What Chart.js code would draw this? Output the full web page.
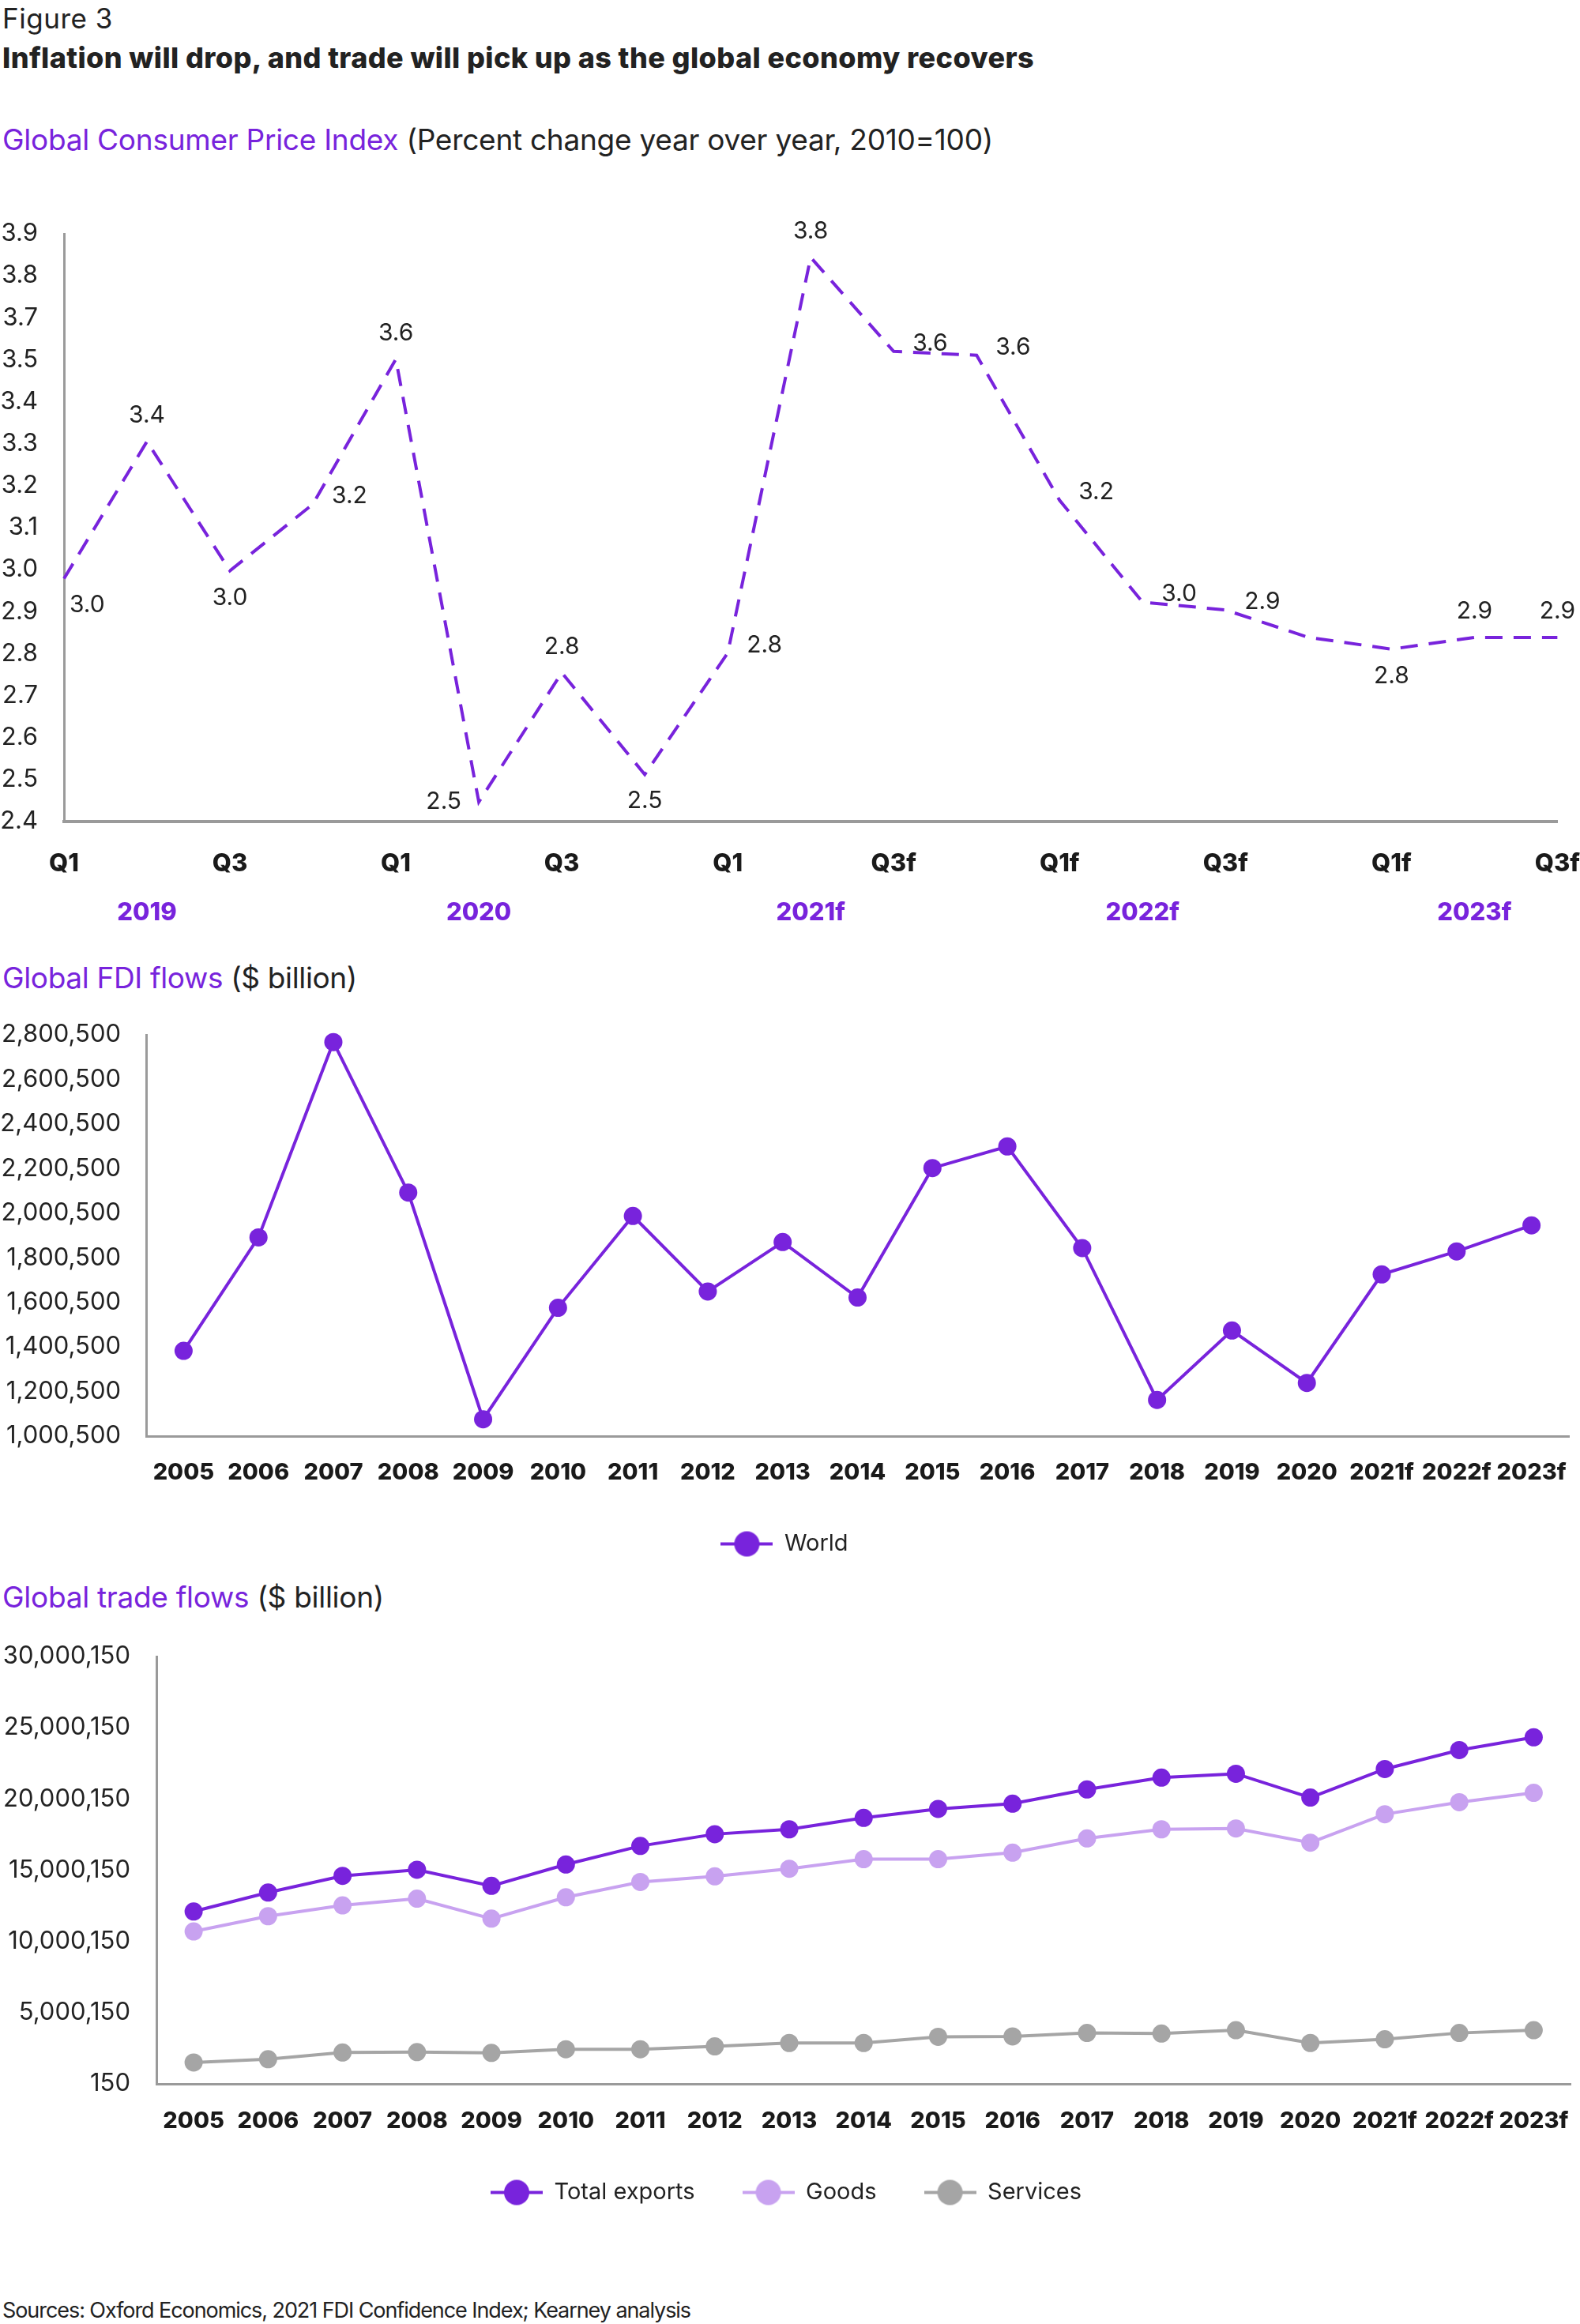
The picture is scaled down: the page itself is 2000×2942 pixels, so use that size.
<!DOCTYPE html>
<html>
<head>
<meta charset="utf-8">
<title>Figure 3</title>
<script src="https://cdn.jsdelivr.net/npm/chart.js@4.4.1/dist/chart.umd.min.js"></script>
<style>
  html, body { margin: 0; padding: 0; background: #fff; }
  body { width: 2000px; height: 2942px; position: relative; overflow: hidden; font-family: Inter, 'Noto Sans', sans-serif; color: #222; }
  .txt { position: absolute; left: 3px; white-space: nowrap; line-height: 1; }
  .hl { color: #7823dc; }
  .box { position: absolute; left: 0; width: 2000px; }
</style>
</head>
<body>
<div class="txt" style="top:6px;font-size:35px" data-w="140">Figure 3</div>
<div class="txt" style="top:55px;font-size:36px;font-weight:800" data-w="1306">Inflation will drop, and trade will pick up as the global economy recovers</div>
<div class="txt" style="top:158px;font-size:37px" data-w="1254"><span class="hl">Global Consumer Price Index</span> (Percent change year over year, 2010=100)</div>
<div class="box" style="top:250px;height:950px"><canvas id="cpi"></canvas></div>
<div class="txt" style="top:1219px;font-size:37px" data-w="449"><span class="hl">Global FDI flows</span> ($ billion)</div>
<div class="box" style="top:1270px;height:720px"><canvas id="fdi"></canvas></div>
<div class="txt" style="top:2003px;font-size:37px" data-w="483"><span class="hl">Global trade flows</span> ($ billion)</div>
<div class="box" style="top:2060px;height:750px"><canvas id="trade"></canvas></div>
<div class="txt" style="top:2911px;font-size:27px" data-w="871">Sources: Oxford Economics, 2021 FDI Confidence Index; Kearney analysis</div>

<script>
// --- data ---
const cpiQuarters = ['Q1', 'Q2', 'Q3', 'Q4', 'Q1', 'Q2', 'Q3', 'Q4', 'Q1', 'Q2f', 'Q3f', 'Q4f', 'Q1f', 'Q2f', 'Q3f', 'Q4f', 'Q1f', 'Q2f', 'Q3f'];
const cpiYears = ['2019', '2020', '2021f', '2022f', '2023f'];
const cpiValues = [3.02, 3.37, 3.04, 3.21, 3.58, 2.45, 2.78, 2.52, 2.83, 3.84, 3.60, 3.59, 3.22, 2.96, 2.94, 2.87, 2.84, 2.87, 2.87];
const cpiValueLabels = ['3.0', '3.4', '3.0', '3.2', '3.6', '2.5', '2.8', '2.5', '2.8', '3.8', '3.6', '3.6', '3.2', '3.0', '2.9', '', '2.8', '2.9', '2.9'];
const cpiTicks = ['2.4', '2.5', '2.6', '2.7', '2.8', '2.9', '3.0', '3.1', '3.2', '3.3', '3.4', '3.5', '3.7', '3.8', '3.9'];
const cpiMin = 2.4;
const cpiMax = 3.9;

const years = ['2005', '2006', '2007', '2008', '2009', '2010', '2011', '2012', '2013', '2014', '2015', '2016', '2017', '2018', '2019', '2020', '2021f', '2022f', '2023f'];
const fdiWorld = [1383000, 1892000, 2768000, 2093000, 1076000, 1576000, 1988000, 1649000, 1871000, 1622000, 2203000, 2300000, 1844000, 1163000, 1474000, 1239000, 1726000, 1829000, 1946000];
const fdiTicks = [1000500, 1200500, 1400500, 1600500, 1800500, 2000500, 2200500, 2400500, 2600500, 2800500];

const totalExports = [12100000, 13430000, 14600000, 15030000, 13900000, 15400000, 16700000, 17530000, 17870000, 18670000, 19300000, 19670000, 20670000, 21500000, 21770000, 20100000, 22100000, 23430000, 24330000];
const goods = [10700000, 11770000, 12530000, 13000000, 11600000, 13100000, 14170000, 14570000, 15100000, 15770000, 15770000, 16230000, 17230000, 17870000, 17930000, 16930000, 18930000, 19770000, 20430000];
const services = [1500000, 1730000, 2200000, 2230000, 2170000, 2430000, 2430000, 2630000, 2870000, 2870000, 3300000, 3330000, 3570000, 3530000, 3770000, 2870000, 3130000, 3570000, 3770000];
const tradeTicks = [150, 5000150, 10000150, 15000150, 20000150, 25000150, 30000150];

// --- look ---
const purple = '#7823dc';
const lilac = '#c8a2f0';
const grey = '#a5a5a5';
const axisGrey = '#9a9a9a';
const ink = '#222';
const family = 'Inter, "Noto Sans", sans-serif';

Chart.defaults.font.family = family;
Chart.defaults.color = ink;
Chart.defaults.animation = false;

// title widths follow the original's tight type
document.querySelectorAll('[data-w]').forEach(el => {
    el.style.letterSpacing = '0px';
    const w = el.getBoundingClientRect().width;
    el.style.letterSpacing = ((+el.dataset.w - w) / el.textContent.length) + 'px';
});

// value labels next to the dashed CPI line
const pointLabels = {
    id: 'pointLabels',
    afterDatasetsDraw(chart, args, opts) {
        const texts = opts.texts || [];
        const {ctx, chartArea} = chart;
        const vals = chart.data.datasets[0].data;
        ctx.save();
        ctx.font = '30px ' + family;
        ctx.fillStyle = ink;
        ctx.textBaseline = 'middle';
        chart.getDatasetMeta(0).data.forEach((pt, i) => {
            if (!texts[i]) return;
            const v = vals[i], prev = vals[i - 1], next = vals[i + 1];
            const peak = (prev === undefined || v >= prev) && (next === undefined || v >= next);
            const trough = (prev === undefined || v <= prev) && (next === undefined || v <= next);
            const w = ctx.measureText(texts[i]).width;
            let x = pt.x, y = pt.y;
            ctx.textAlign = 'center';
            if (peak) {
                y -= 33;
            } else if (trough) {
                if (y + 34 > chartArea.bottom - 18) { x -= 22; ctx.textAlign = 'right'; }
                else y += 34;
            } else {
                x += 24; y -= 10; ctx.textAlign = 'left';
            }
            if (ctx.textAlign === 'center' && x - w / 2 < chartArea.left + 7) x = chartArea.left + 7 + w / 2;
            ctx.fillText(texts[i], x, y);
        });
        ctx.restore();
    }
};

function legendIcon(color) {
    const c = document.createElement('canvas');
    c.width = 66;
    c.height = 34;
    const g = c.getContext('2d');
    g.strokeStyle = color;
    g.lineWidth = 4;
    g.beginPath(); g.moveTo(0, 17); g.lineTo(66, 17); g.stroke();
    g.fillStyle = color;
    g.beginPath(); g.arc(33, 17, 16, 0, Math.PI * 2); g.fill();
    return c;
}

function iconLabels(chart) {
    const items = Chart.defaults.plugins.legend.labels.generateLabels(chart);
    items.forEach(it => { it.pointStyle = legendIcon(chart.data.datasets[it.datasetIndex].borderColor); });
    return items;
}

// hidden tick marks stand in for label padding, so Chart.js adds no extra edge room
const gap = n => ({display: false, drawTicks: true, tickLength: n});

// --- Global CPI ---
new Chart(document.getElementById('cpi'), {
    type: 'line',
    data: {
        labels: cpiQuarters,
        datasets: [{
            data: cpiValues,
            borderColor: purple,
            borderWidth: 4,
            borderDash: [22, 14],
            pointRadius: 0,
            tension: 0,
            fill: false
        }]
    },
    options: {
        responsive: true,
        maintainAspectRatio: false,
        layout: {padding: {top: 46, right: 24, bottom: 10, left: 0}},
        plugins: {legend: {display: false}, tooltip: {enabled: false}, pointLabels: {texts: cpiValueLabels}},
        scales: {
            x: {
                offset: false,
                grid: gap(35),
                border: {color: axisGrey, width: 4},
                ticks: {autoSkip: false, maxRotation: 0, padding: 0, font: {size: 31, weight: '800'}, color: '#1a1a1a',
                    callback: (v, i) => i % 2 === 0 ? cpiQuarters[i] : ''},
                afterFit: s => { s.height = 80; }
            },
            x2: {
                type: 'category',
                position: 'bottom',
                weight: 1,
                offset: false,
                grid: gap(17),
                border: {display: false},
                ticks: {autoSkip: false, maxRotation: 0, padding: 0, font: {size: 31, weight: '800'}, color: purple,
                    callback: (v, i) => i % 4 === 1 ? cpiYears[(i - 1) / 4] : ''},
                afterFit: s => { s.height = 70; }
            },
            y: {
                min: cpiMin,
                max: cpiMax,
                grid: gap(33),
                border: {color: axisGrey, width: 3},
                afterBuildTicks: s => {
                    s.ticks = cpiTicks.map((t, i) => ({value: cpiMin + i * (cpiMax - cpiMin) / (cpiTicks.length - 1)}));
                },
                ticks: {autoSkip: false, padding: 0, font: {size: 31}, color: ink, callback: (v, i) => cpiTicks[i]},
                afterFit: s => { s.width = 81; }
            }
        }
    },
    plugins: [pointLabels]
});

// --- Global FDI ---
new Chart(document.getElementById('fdi'), {
    type: 'line',
    data: {
        labels: years,
        datasets: [{
            label: 'World',
            data: fdiWorld,
            borderColor: purple,
            backgroundColor: purple,
            borderWidth: 4,
            pointRadius: 11.5,
            pointBorderWidth: 0,
            pointBackgroundColor: purple,
            tension: 0,
            clip: false
        }]
    },
    options: {
        responsive: true,
        maintainAspectRatio: false,
        layout: {padding: {top: 40, right: 14, bottom: 11, left: 0}},
        plugins: {
            tooltip: {enabled: false},
            legend: {
                position: 'bottom',
                labels: {usePointStyle: true, pointStyleWidth: 66, boxHeight: 29, padding: 36, font: {size: 29}, color: ink, generateLabels: iconLabels}
            }
        },
        scales: {
            x: {
                offset: true,
                grid: gap(29),
                border: {color: axisGrey, width: 3},
                ticks: {autoSkip: false, maxRotation: 0, padding: 0, font: {size: 29, weight: '800'}, color: '#1a1a1a'},
                afterFit: s => { s.height = 86; }
            },
            y: {
                min: fdiTicks[0],
                max: fdiTicks[fdiTicks.length - 1],
                grid: gap(32),
                border: {color: axisGrey, width: 3},
                afterBuildTicks: s => { s.ticks = fdiTicks.map(v => ({value: v})); },
                ticks: {autoSkip: false, padding: 0, font: {size: 31}, color: ink, callback: v => v.toLocaleString('en-US')},
                afterFit: s => { s.width = 185; }
            }
        }
    }
});

// --- Global trade ---
const tradeLine = (label, data, color) => ({
    label, data,
    borderColor: color,
    backgroundColor: color,
    borderWidth: 4,
    pointRadius: 11.5,
    pointBorderWidth: 0,
    pointBackgroundColor: color,
    tension: 0,
    clip: false
});

new Chart(document.getElementById('trade'), {
    type: 'line',
    data: {
        labels: years,
        datasets: [
            tradeLine('Total exports', totalExports, purple),
            tradeLine('Goods', goods, lilac),
            tradeLine('Services', services, grey)
        ]
    },
    options: {
        responsive: true,
        maintainAspectRatio: false,
        layout: {padding: {top: 37, right: 10, bottom: 10, left: 0}},
        plugins: {
            tooltip: {enabled: false},
            legend: {
                position: 'bottom',
                labels: {usePointStyle: true, pointStyleWidth: 66, boxHeight: 29, padding: 60, font: {size: 29}, color: ink, generateLabels: iconLabels}
            }
        },
        scales: {
            x: {
                offset: true,
                grid: gap(30),
                border: {color: axisGrey, width: 3},
                ticks: {autoSkip: false, maxRotation: 0, padding: 0, font: {size: 29, weight: '800'}, color: '#1a1a1a'},
                afterFit: s => { s.height = 63; }
            },
            y: {
                min: tradeTicks[0],
                max: tradeTicks[tradeTicks.length - 1],
                grid: gap(33),
                border: {color: axisGrey, width: 3},
                afterBuildTicks: s => { s.ticks = tradeTicks.map(v => ({value: v})); },
                ticks: {autoSkip: false, padding: 0, font: {size: 31}, color: ink, callback: v => v.toLocaleString('en-US')},
                afterFit: s => { s.width = 198; }
            }
        }
    }
});
</script>
</body>
</html>
